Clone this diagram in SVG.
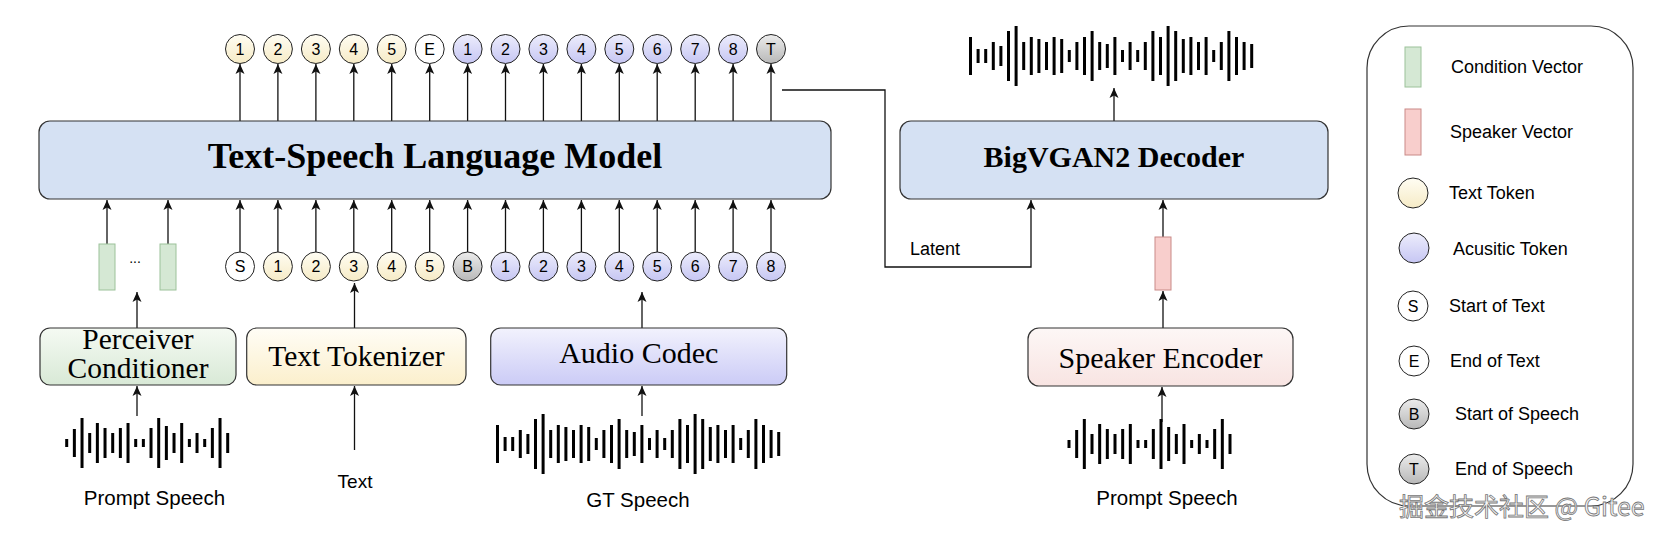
<svg xmlns="http://www.w3.org/2000/svg" xmlns:xlink="http://www.w3.org/1999/xlink" width="1664" height="538" viewBox="0 0 1664 538">
<style>
.box{stroke:#333;stroke-width:1.2}
.serif{font-family:"Liberation Serif","Times New Roman",serif;fill:#000}
.sans{font-family:"Liberation Sans",Arial,sans-serif;fill:#000}
.tok{stroke:#222;stroke-width:1}
.toktxt{font-family:"Liberation Sans",Arial,sans-serif;font-size:16px;text-anchor:middle;fill:#000}
.arr{stroke:#111;stroke-width:1.3;fill:none;marker-end:url(#ah)}
.wave{stroke:#000;stroke-width:3;fill:none}
.lg{font-family:"Liberation Sans",Arial,sans-serif;font-size:18px;fill:#000}
</style>
<defs>
<marker id="ah" markerUnits="userSpaceOnUse" markerWidth="10" markerHeight="10" refX="10" refY="5" orient="auto" viewBox="0 0 10 10">
<path d="M0,0.5 L10,5 L0,9.5 L2.5,5 Z" fill="#111"/>
</marker>
<linearGradient id="gY" x1="0" y1="0" x2="0" y2="1"><stop offset="0" stop-color="#fffdf3"/><stop offset="1" stop-color="#f6ebc6"/></linearGradient>
<linearGradient id="gA" x1="0" y1="0" x2="0" y2="1"><stop offset="0" stop-color="#ededfc"/><stop offset="1" stop-color="#c6c6f3"/></linearGradient>
<linearGradient id="gG" x1="0" y1="0" x2="0" y2="1"><stop offset="0" stop-color="#ececec"/><stop offset="1" stop-color="#b8b8b8"/></linearGradient>
<linearGradient id="gPer" x1="0" y1="0" x2="0" y2="1"><stop offset="0" stop-color="#f5faf3"/><stop offset="1" stop-color="#d8e9d6"/></linearGradient>
<linearGradient id="gTok" x1="0" y1="0" x2="0" y2="1"><stop offset="0" stop-color="#fffdf6"/><stop offset="1" stop-color="#fbefcc"/></linearGradient>
<linearGradient id="gAud" x1="0" y1="0" x2="0" y2="1"><stop offset="0" stop-color="#f2f2fd"/><stop offset="1" stop-color="#cbcbf6"/></linearGradient>
<linearGradient id="gSpk" x1="0" y1="0" x2="0" y2="1"><stop offset="0" stop-color="#fdf7f6"/><stop offset="1" stop-color="#f8e4e2"/></linearGradient>
<path id="waveS" class="wave" d="M0,-4V4 M7.67,-14V14 M15.33,-25V25 M23,-10V10 M30.67,-20V20 M38.33,-15V15 M46,-10V10 M53.67,-15V15 M61.33,-20V20 M69,-4V4 M76.67,-4V4 M84.33,-15V15 M92,-25V25 M99.67,-17V17 M107.33,-10V10 M115,-20V20 M122.67,-4V4 M130.33,-10V10 M138,-4V4 M145.67,-15V15 M153.33,-25V25 M161,-10V10"/>
<path id="waveL" class="wave" d="M0,-19V19 M7.6,-7V7 M15.2,-7V7 M22.8,-14V14 M30.4,-10V10 M38,-25V25 M45.6,-30V30 M53.2,-14V14 M60.8,-19V19 M68.4,-17V17 M76,-14V14 M83.6,-19V19 M91.2,-17V17 M98.8,-6V6 M106.4,-14V14 M114,-19V19 M121.6,-25V25 M129.2,-14V14 M136.8,-12V12 M144.4,-19V19 M152,-6V6 M159.6,-14V14 M167.2,-6V6 M174.8,-14V14 M182.4,-25V25 M190,-19V19 M197.6,-30V30 M205.2,-25V25 M212.8,-17V17 M220.4,-19V19 M228,-14V14 M235.6,-19V19 M243.2,-6V6 M250.8,-14V14 M258.4,-25V25 M266,-19V19 M273.6,-14V14 M281.2,-12V12"/>
</defs>
<rect width="1664" height="538" fill="#fff"/>

<g id="connectors">
<line class="arr" x1="240" y1="121" x2="240" y2="64"/>
<line class="arr" x1="277.9" y1="121" x2="277.9" y2="64"/>
<line class="arr" x1="315.9" y1="121" x2="315.9" y2="64"/>
<line class="arr" x1="353.8" y1="121" x2="353.8" y2="64"/>
<line class="arr" x1="391.7" y1="121" x2="391.7" y2="64"/>
<line class="arr" x1="429.7" y1="121" x2="429.7" y2="64"/>
<line class="arr" x1="467.6" y1="121" x2="467.6" y2="64"/>
<line class="arr" x1="505.5" y1="121" x2="505.5" y2="64"/>
<line class="arr" x1="543.4" y1="121" x2="543.4" y2="64"/>
<line class="arr" x1="581.4" y1="121" x2="581.4" y2="64"/>
<line class="arr" x1="619.3" y1="121" x2="619.3" y2="64"/>
<line class="arr" x1="657.2" y1="121" x2="657.2" y2="64"/>
<line class="arr" x1="695.2" y1="121" x2="695.2" y2="64"/>
<line class="arr" x1="733.1" y1="121" x2="733.1" y2="64"/>
<line class="arr" x1="771" y1="121" x2="771" y2="64"/>
<line class="arr" x1="240" y1="252" x2="240" y2="200"/>
<line class="arr" x1="277.9" y1="252" x2="277.9" y2="200"/>
<line class="arr" x1="315.9" y1="252" x2="315.9" y2="200"/>
<line class="arr" x1="353.8" y1="252" x2="353.8" y2="200"/>
<line class="arr" x1="391.7" y1="252" x2="391.7" y2="200"/>
<line class="arr" x1="429.7" y1="252" x2="429.7" y2="200"/>
<line class="arr" x1="467.6" y1="252" x2="467.6" y2="200"/>
<line class="arr" x1="505.5" y1="252" x2="505.5" y2="200"/>
<line class="arr" x1="543.4" y1="252" x2="543.4" y2="200"/>
<line class="arr" x1="581.4" y1="252" x2="581.4" y2="200"/>
<line class="arr" x1="619.3" y1="252" x2="619.3" y2="200"/>
<line class="arr" x1="657.2" y1="252" x2="657.2" y2="200"/>
<line class="arr" x1="695.2" y1="252" x2="695.2" y2="200"/>
<line class="arr" x1="733.1" y1="252" x2="733.1" y2="200"/>
<line class="arr" x1="771" y1="252" x2="771" y2="200"/>
<line class="arr" x1="107" y1="244" x2="107" y2="200"/>
<line class="arr" x1="168" y1="244" x2="168" y2="200"/>
<line class="arr" x1="137" y1="328" x2="137" y2="292"/>
<line class="arr" x1="137" y1="416" x2="137" y2="386"/>
<line class="arr" x1="354.5" y1="328" x2="354.5" y2="283"/>
<line class="arr" x1="354.5" y1="450" x2="354.5" y2="386"/>
<line class="arr" x1="642" y1="328" x2="642" y2="292"/>
<line class="arr" x1="642" y1="416" x2="642" y2="386"/>
<path class="arr" d="M782,90H885V267H1031V200"/>
<line class="arr" x1="1114" y1="121" x2="1114" y2="88"/>
<line class="arr" x1="1163" y1="237" x2="1163" y2="200"/>
<line class="arr" x1="1163" y1="328" x2="1163" y2="291"/>
<line class="arr" x1="1162" y1="422" x2="1162" y2="387"/>
</g>

<g id="lm">
<rect class="box" x="39" y="121" width="792" height="78" rx="11" fill="#d5e1f3"/>
<text class="serif" x="435" y="168" font-size="36" font-weight="bold" text-anchor="middle">Text-Speech Language Model</text>
</g>

<g id="tokens-out">
<circle class="tok" cx="240" cy="49" r="14.5" fill="url(#gY)"/><text class="toktxt" x="240" y="54.8">1</text>
<circle class="tok" cx="277.9" cy="49" r="14.5" fill="url(#gY)"/><text class="toktxt" x="277.9" y="54.8">2</text>
<circle class="tok" cx="315.9" cy="49" r="14.5" fill="url(#gY)"/><text class="toktxt" x="315.9" y="54.8">3</text>
<circle class="tok" cx="353.8" cy="49" r="14.5" fill="url(#gY)"/><text class="toktxt" x="353.8" y="54.8">4</text>
<circle class="tok" cx="391.7" cy="49" r="14.5" fill="url(#gY)"/><text class="toktxt" x="391.7" y="54.8">5</text>
<circle class="tok" cx="429.7" cy="49" r="14.5" fill="#fff"/><text class="toktxt" x="429.7" y="54.8">E</text>
<circle class="tok" cx="467.6" cy="49" r="14.5" fill="url(#gA)"/><text class="toktxt" x="467.6" y="54.8">1</text>
<circle class="tok" cx="505.5" cy="49" r="14.5" fill="url(#gA)"/><text class="toktxt" x="505.5" y="54.8">2</text>
<circle class="tok" cx="543.4" cy="49" r="14.5" fill="url(#gA)"/><text class="toktxt" x="543.4" y="54.8">3</text>
<circle class="tok" cx="581.4" cy="49" r="14.5" fill="url(#gA)"/><text class="toktxt" x="581.4" y="54.8">4</text>
<circle class="tok" cx="619.3" cy="49" r="14.5" fill="url(#gA)"/><text class="toktxt" x="619.3" y="54.8">5</text>
<circle class="tok" cx="657.2" cy="49" r="14.5" fill="url(#gA)"/><text class="toktxt" x="657.2" y="54.8">6</text>
<circle class="tok" cx="695.2" cy="49" r="14.5" fill="url(#gA)"/><text class="toktxt" x="695.2" y="54.8">7</text>
<circle class="tok" cx="733.1" cy="49" r="14.5" fill="url(#gA)"/><text class="toktxt" x="733.1" y="54.8">8</text>
<circle class="tok" cx="771" cy="49" r="14.5" fill="url(#gG)"/><text class="toktxt" x="771" y="54.8">T</text>
</g>

<g id="tokens-in">
<circle class="tok" cx="240" cy="266.5" r="14.5" fill="#fff"/><text class="toktxt" x="240" y="272.3">S</text>
<circle class="tok" cx="277.9" cy="266.5" r="14.5" fill="url(#gY)"/><text class="toktxt" x="277.9" y="272.3">1</text>
<circle class="tok" cx="315.9" cy="266.5" r="14.5" fill="url(#gY)"/><text class="toktxt" x="315.9" y="272.3">2</text>
<circle class="tok" cx="353.8" cy="266.5" r="14.5" fill="url(#gY)"/><text class="toktxt" x="353.8" y="272.3">3</text>
<circle class="tok" cx="391.7" cy="266.5" r="14.5" fill="url(#gY)"/><text class="toktxt" x="391.7" y="272.3">4</text>
<circle class="tok" cx="429.7" cy="266.5" r="14.5" fill="url(#gY)"/><text class="toktxt" x="429.7" y="272.3">5</text>
<circle class="tok" cx="467.6" cy="266.5" r="14.5" fill="url(#gG)"/><text class="toktxt" x="467.6" y="272.3">B</text>
<circle class="tok" cx="505.5" cy="266.5" r="14.5" fill="url(#gA)"/><text class="toktxt" x="505.5" y="272.3">1</text>
<circle class="tok" cx="543.4" cy="266.5" r="14.5" fill="url(#gA)"/><text class="toktxt" x="543.4" y="272.3">2</text>
<circle class="tok" cx="581.4" cy="266.5" r="14.5" fill="url(#gA)"/><text class="toktxt" x="581.4" y="272.3">3</text>
<circle class="tok" cx="619.3" cy="266.5" r="14.5" fill="url(#gA)"/><text class="toktxt" x="619.3" y="272.3">4</text>
<circle class="tok" cx="657.2" cy="266.5" r="14.5" fill="url(#gA)"/><text class="toktxt" x="657.2" y="272.3">5</text>
<circle class="tok" cx="695.2" cy="266.5" r="14.5" fill="url(#gA)"/><text class="toktxt" x="695.2" y="272.3">6</text>
<circle class="tok" cx="733.1" cy="266.5" r="14.5" fill="url(#gA)"/><text class="toktxt" x="733.1" y="272.3">7</text>
<circle class="tok" cx="771" cy="266.5" r="14.5" fill="url(#gA)"/><text class="toktxt" x="771" y="272.3">8</text>
</g>

<g id="condition-vectors">
<rect x="99" y="244" width="16" height="46" fill="#d5e8d4" stroke="#9cc29a" stroke-width="1"/>
<text class="sans" x="135" y="263" font-size="14" text-anchor="middle">...</text>
<rect x="160" y="244" width="16" height="46" fill="#d5e8d4" stroke="#9cc29a" stroke-width="1"/>
</g>

<g id="perceiver">
<rect class="box" x="40" y="328" width="196" height="57" rx="10" fill="url(#gPer)" stroke="#a9c4a6"/>
<text class="serif" x="138" y="349" font-size="29.5" text-anchor="middle">Perceiver</text>
<text class="serif" x="138" y="378" font-size="29.5" text-anchor="middle">Conditioner</text>
</g>

<g id="text-tokenizer">
<rect class="box" x="246.7" y="328" width="219.3" height="57" rx="10" fill="url(#gTok)"/>
<text class="serif" x="356.4" y="366" font-size="29.5" text-anchor="middle">Text Tokenizer</text>
</g>

<g id="audio-codec">
<rect class="box" x="490.7" y="328" width="296" height="57" rx="10" fill="url(#gAud)"/>
<text class="serif" x="638.7" y="363" font-size="30" text-anchor="middle">Audio Codec</text>
</g>

<g id="prompt-speech-left">
<use href="#waveS" xlink:href="#waveS" transform="translate(66.7,443)"/>
<text class="sans" x="154.5" y="505" font-size="20.5" text-anchor="middle">Prompt Speech</text>
</g>

<g id="text-input">
<text class="sans" x="355" y="488" font-size="19" text-anchor="middle">Text</text>
</g>

<g id="gt-speech">
<use href="#waveL" xlink:href="#waveL" transform="translate(497.5,444)"/>
<text class="sans" x="638" y="507" font-size="20.5" text-anchor="middle">GT Speech</text>
</g>

<g id="latent-label">
<text class="sans" x="910" y="255" font-size="18">Latent</text>
</g>

<g id="bigvgan">
<rect class="box" x="900" y="121" width="428" height="78" rx="11" fill="#d5e1f3"/>
<text class="serif" x="1114" y="167" font-size="30" font-weight="bold" text-anchor="middle">BigVGAN2 Decoder</text>
</g>

<g id="output-wave">
<use href="#waveL" xlink:href="#waveL" transform="translate(970.5,56)"/>
</g>

<g id="speaker-vector">
<rect x="1155" y="237" width="16" height="53" fill="#f8cecc" stroke="#c98a87" stroke-width="1"/>
</g>

<g id="speaker-encoder">
<rect class="box" x="1028" y="328" width="265" height="58" rx="11" fill="url(#gSpk)"/>
<text class="serif" x="1160.5" y="368" font-size="30" text-anchor="middle">Speaker Encoder</text>
</g>

<g id="prompt-speech-right">
<use href="#waveS" xlink:href="#waveS" transform="translate(1069,444)"/>
<text class="sans" x="1167" y="505" font-size="20.5" text-anchor="middle">Prompt Speech</text>
</g>

<g id="legend">
<rect x="1367" y="26" width="266" height="480" rx="42" fill="#fff" stroke="#333" stroke-width="1.2"/>
<rect x="1405" y="47" width="16" height="40" fill="#d5e8d4" stroke="#9cc29a" stroke-width="1"/>
<text class="lg" x="1451" y="73">Condition Vector</text>
<rect x="1405" y="109" width="16" height="46" fill="#f8cecc" stroke="#c98a87" stroke-width="1"/>
<text class="lg" x="1450" y="138">Speaker Vector</text>
<circle class="tok" cx="1413" cy="193" r="15" fill="url(#gY)"/>
<text class="lg" x="1449" y="199">Text Token</text>
<circle class="tok" cx="1414" cy="248" r="15" fill="url(#gA)"/>
<text class="lg" x="1453" y="255">Acusitic Token</text>
<circle class="tok" cx="1413" cy="306" r="15" fill="#fff"/><text class="toktxt" x="1413" y="311.8">S</text>
<text class="lg" x="1449" y="312">Start of Text</text>
<circle class="tok" cx="1414" cy="361" r="15" fill="#fff"/><text class="toktxt" x="1414" y="366.8">E</text>
<text class="lg" x="1450" y="367">End of Text</text>
<circle class="tok" cx="1414" cy="414" r="15" fill="url(#gG)"/><text class="toktxt" x="1414" y="419.8">B</text>
<text class="lg" x="1455" y="420">Start of Speech</text>
<circle class="tok" cx="1414" cy="469" r="15" fill="url(#gG)"/><text class="toktxt" x="1414" y="474.8">T</text>
<text class="lg" x="1455" y="475">End of Speech</text>
</g>

<g id="watermark">
<text x="1399" y="516" font-family="'Noto Sans CJK SC','Liberation Sans',sans-serif" font-size="25" fill="#f6f6f6" stroke="#777" stroke-width="0.8">掘金技术社区 @ Gitee</text>
</g>
</svg>
